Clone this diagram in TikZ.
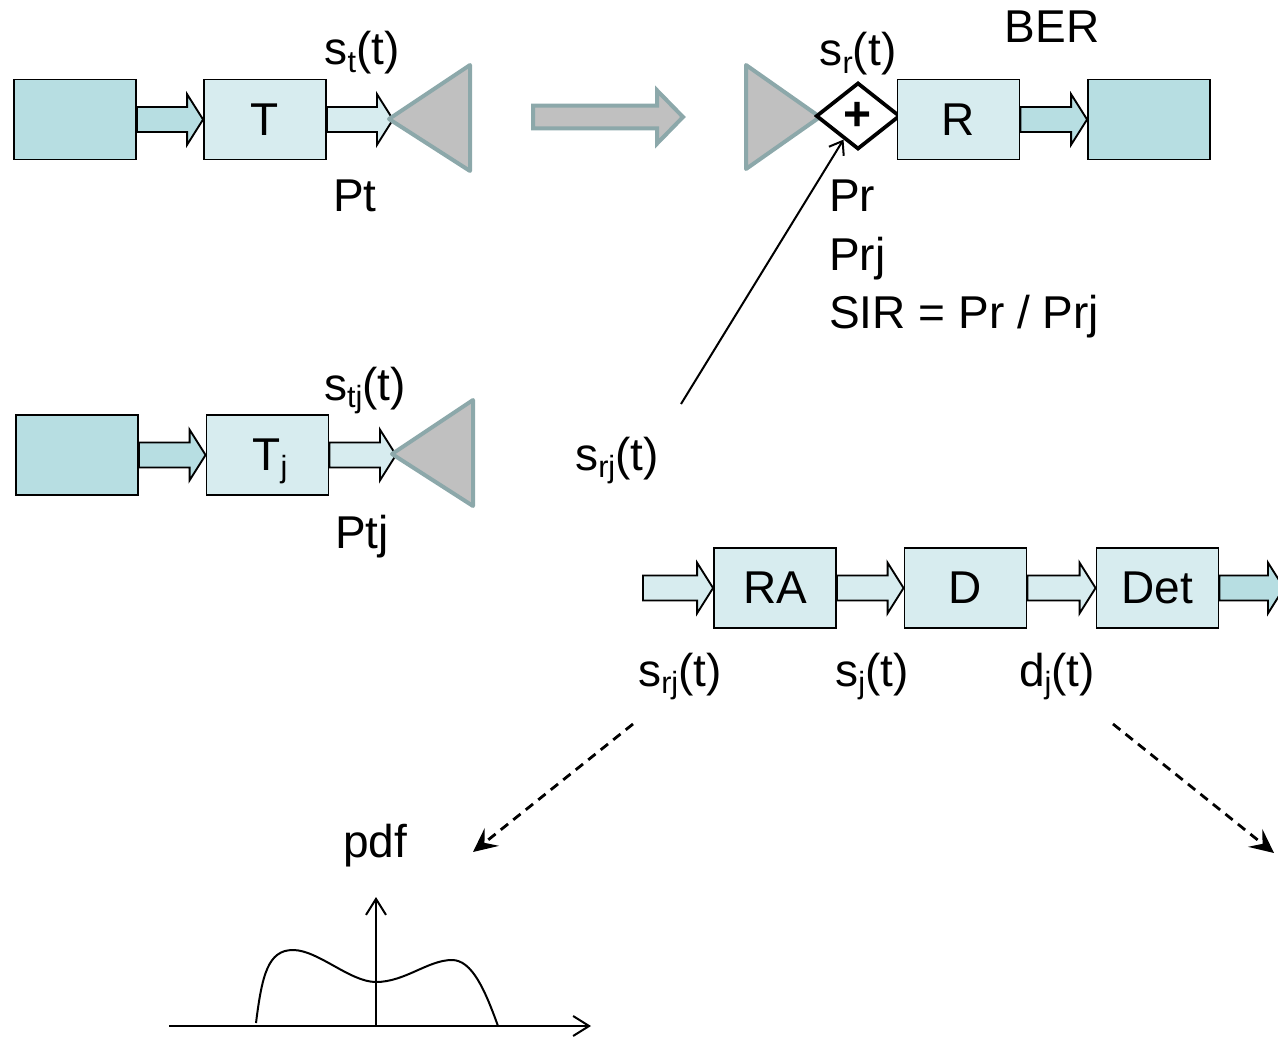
\documentclass[tikz,border=0pt]{standalone}
\usepackage{fontspec}
\setmainfont{Liberation Sans}
\usetikzlibrary{shapes.geometric,arrows.meta,calc}
\definecolor{tealdark}{HTML}{B7DEE2}
\definecolor{teallight}{HTML}{D7ECEF}
\definecolor{antgray}{HTML}{C0C0C0}
\definecolor{antedge}{HTML}{8CA8AA}
\newcommand\lowsub[1]{\raisebox{-5.5pt}{\fontsize{23}{23}\selectfont #1}}
\newcommand\blockarr[3]{%
  \draw[blockarrow,fill=#1] let \p1=(#2), \p2=(#3) in
    (\x1,\y1+9.4pt) -- (\x2-12pt,\y1+9.4pt) -- (\x2-12pt,\y1+19pt) -- (\x2,\y1)
    -- (\x2-12pt,\y1-19pt) -- (\x2-12pt,\y1-9.4pt) -- (\x1,\y1-9.4pt) -- cycle;}
\begin{document}
\begin{tikzpicture}[x=0.75pt,y=-0.75pt,
  every node/.style={font=\fontsize{34.5}{41}\selectfont, inner sep=0pt},
  box/.style={draw, line width=1.4pt, minimum width=91.5pt, minimum height=60pt},
  darkbox/.style={box, fill=tealdark},
  lightbox/.style={box, fill=teallight},
  blockarrow/.style={draw, line width=1.4pt, line join=miter},
  antenna/.style={draw=antedge, fill=antgray, line width=3pt, line join=round},
  sumnode/.style={diamond, draw, line width=2.8pt, minimum width=63pt, minimum height=50pt, fill=white, font=\fontsize{36}{41}\selectfont\bfseries},
  dasharrow/.style={line width=2.1pt, dash pattern=on 7pt off 5pt, -{Stealth[length=18pt,width=17pt,inset=7pt]}},
  thinarrow/.style={line width=1.5pt, -{Straight Barb[length=9pt,width=13pt]}},
  axis/.style={line width=1.5pt, -{Straight Barb[length=12pt,width=15pt]}}]
\useasboundingbox (0,0) rectangle (1278,1038);

% ---------- top row: transmitter ----------
\node[darkbox] (src) at (75,119.5) {};
\node[lightbox] (T) at (265,119.5) {T};
\coordinate (ant1tip) at (389,119);
\coordinate (a1end) at (393,119);
\blockarr{tealdark}{src.east}{T.west}
\blockarr{teallight}{T.east}{a1end}
\draw[antenna] (ant1tip) -- (470,65) -- (470,171) -- cycle;
\node[anchor=base] (lst) at (362,65) {s\lowsub{t}(t)};
\node[anchor=base] (lPt) at (355,212) {Pt};

% ---------- channel arrow ----------
\coordinate (chs) at (533,117);
\coordinate (che) at (683,117);
\draw[antenna, line join=miter] let \p1=(chs), \p2=(che) in
  (\x1,\y1+8.6pt) -- (\x2-19.5pt,\y1+8.6pt) -- (\x2-19.5pt,\y1+20pt) -- (\x2,\y1)
  -- (\x2-19.5pt,\y1-20pt) -- (\x2-19.5pt,\y1-8.6pt) -- (\x1,\y1-8.6pt) -- cycle;

% ---------- top row: receiver ----------
\draw[antenna] (746,65) -- (746,169) -- (820,117) -- cycle;
\node[sumnode] (dia) at (858,116) {+};
\node[lightbox] (R) at (958.5,119.5) {R};
\node[darkbox] (sink) at (1149,119.5) {};
\blockarr{tealdark}{R.east}{sink.west}
\node[anchor=base] (lsr) at (858,66) {s\lowsub{r}(t)};
\node[anchor=base] (lBER) at (1052,43) {BER};
\node[anchor=base west] (lPr) at (829,212) {Pr};
\node[anchor=base west] (lPrj) at (829,270) {Prj};
\node[anchor=base west] (lSIR) at (829,328) {SIR = Pr / Prj};

% ---------- middle row: jammer ----------
\node[darkbox] (src2) at (77,455) {};
\node[lightbox] (Tj) at (267.5,455) {};
\node[anchor=base] (lTj) at (270,470) {T\lowsub{j}};
\coordinate (a2end) at (396,455);
\blockarr{tealdark}{src2.east}{Tj.west}
\blockarr{teallight}{Tj.east}{a2end}
\draw[antenna] (392,454) -- (473,400) -- (473,506) -- cycle;
\node[anchor=base] (lstj) at (365,400) {s\lowsub{tj}(t)};
\node[anchor=base] (lPtj) at (362,548) {Ptj};

% jamming path
\coordinate (srjstart) at (681,404);
\draw[thinarrow] (srjstart) -- (dia);
\node[anchor=base] (lsrj) at (617,470) {s\lowsub{rj}(t)};

% ---------- bottom row ----------
\coordinate (inS) at (643,588);
\node[lightbox] (RA) at (775,588) {RA};
\node[lightbox] (D) at (965.5,588) {D};
\node[lightbox] (Det) at (1157.5,588) {Det};
\coordinate (outE) at (1284,588);
\blockarr{teallight}{inS}{RA.west}
\blockarr{teallight}{RA.east}{D.west}
\blockarr{teallight}{D.east}{Det.west}
\blockarr{tealdark}{Det.east}{outE}
\node[anchor=base] (lsrj2) at (680,686) {s\lowsub{rj}(t)};
\node[anchor=base] (lsj) at (872,686) {s\lowsub{j}(t)};
\node[anchor=base] (ldj) at (1057,686) {d\lowsub{j}(t)};

% dashed arrows
\coordinate (d1s) at (633,724);
\coordinate (d1e) at (473,852);
\coordinate (d2s) at (1113,724);
\coordinate (d2e) at (1274,853);
\draw[dasharrow] (d1s) -- (d1e);
\draw[dasharrow] (d2s) -- (d2e);

% ---------- pdf plot ----------
\node[anchor=base] (lpdf) at (375,857) {pdf};
\coordinate (origin) at (376,1026);
\coordinate (xend) at (591,1026);
\coordinate (xstart) at (169,1026);
\coordinate (ytop) at (376,897);
\draw[axis] (xstart) -- (xend);
\draw[axis] (origin) -- (ytop);
\draw[line width=1.5pt] (256,1023) .. controls (262,975) and (268,950) .. (293,950)
  .. controls (318,950) and (350,982) .. (376,982)
  .. controls (405,982) and (428,960) .. (452,960)
  .. controls (472,960) and (485,990) .. (498,1026);
\end{tikzpicture}
\end{document}
